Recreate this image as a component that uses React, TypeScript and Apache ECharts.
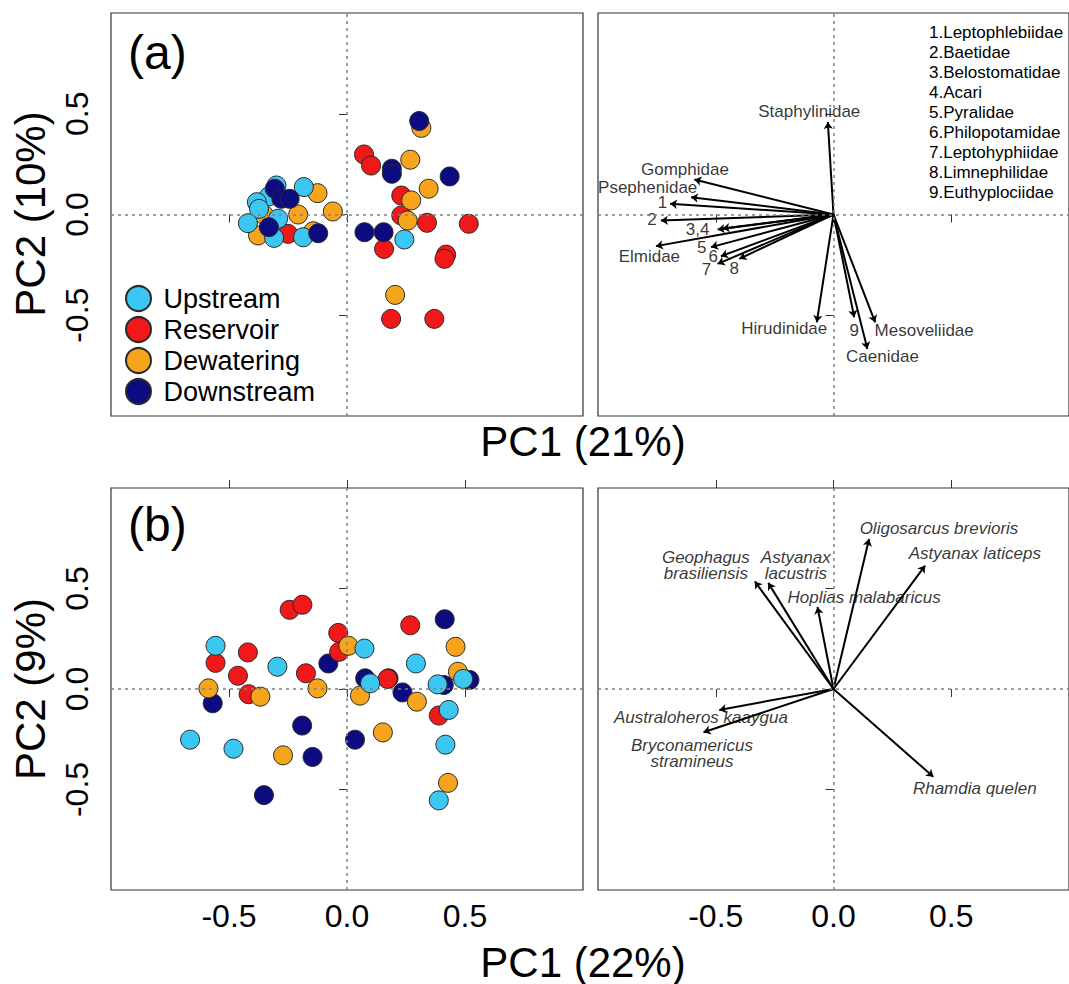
import React, { useEffect, useRef } from "react";
import * as echarts from "echarts";

const groups = ["Upstream", "Reservoir", "Dewatering", "Downstream"];
const groupColors = ["#3cc6f2", "#f01818", "#f7a41d", "#0c0c80"];

// Panel (a) site scores
const upstreamA = [[-0.299, 0.144], [-0.331, 0.09], [-0.382, 0.061], [-0.373, 0.028], [-0.42, -0.043], [-0.292, -0.021], [-0.309, -0.116], [-0.186, -0.113], [-0.183, 0.136], [0.243, -0.124]];
const reservoirA = [[0.072, 0.298], [0.102, 0.243], [0.23, 0.094], [0.23, -0.005], [0.339, -0.041], [0.516, -0.046], [0.157, -0.171], [0.42, -0.199], [0.413, -0.22], [0.187, -0.518], [0.37, -0.518], [-0.25, -0.096]];
const dewateringA = [[0.315, 0.43], [0.268, 0.272], [0.346, 0.128], [0.272, 0.07], [0.257, -0.03], [0.204, -0.399], [-0.125, 0.106], [-0.06, 0.015], [-0.207, 0.0], [-0.352, -0.002], [-0.377, -0.104], [-0.143, -0.083]];
const downstreamA = [[0.306, 0.464], [0.19, 0.227], [0.19, 0.202], [0.435, 0.189], [0.074, -0.088], [0.155, -0.088], [-0.122, -0.093], [-0.331, -0.063], [-0.306, 0.128], [-0.278, 0.078], [-0.243, 0.078]];

// Panel (b) site scores
const upstreamB = [[-0.557, 0.215], [-0.295, 0.111], [-0.665, -0.252], [-0.481, -0.297], [0.074, 0.201], [0.098, 0.028], [0.292, 0.127], [0.384, 0.023], [0.431, -0.104], [0.417, -0.277], [0.389, -0.554], [0.492, 0.05]];
const reservoirB = [[-0.243, 0.394], [-0.189, 0.419], [-0.037, 0.279], [-0.033, 0.185], [-0.42, 0.182], [-0.557, 0.13], [-0.462, 0.066], [-0.417, -0.026], [-0.174, 0.078], [0.172, 0.05], [0.268, 0.317], [0.389, -0.132]];
const dewateringB = [[-0.587, 0.003], [-0.367, -0.038], [-0.125, 0.003], [0.006, 0.215], [0.055, -0.033], [0.296, -0.063], [0.152, -0.216], [-0.271, -0.33], [0.46, 0.21], [0.47, 0.086], [0.428, -0.467]];
const downstreamB = [[-0.569, -0.071], [-0.079, 0.127], [-0.19, -0.182], [-0.146, -0.338], [-0.352, -0.528], [0.034, -0.252], [0.077, 0.053], [0.176, 0.053], [0.235, -0.017], [0.414, 0.347], [0.41, 0.02], [0.519, 0.045]];

// Panel (a) loadings (arrow tips) and label positions
const taxaA = ["Staphylinidae", "Gomphidae", "Psephenidae", "1", "2", "3", "4", "Elmidae", "5", "6", "7", "8", "Hirudinidae", "9", "Caenidae", "Mesoveliidae"];
const tipsA = [[-0.024, 0.459], [-0.591, 0.174], [-0.605, 0.086], [-0.694, 0.053], [-0.733, -0.03], [-0.492, -0.075], [-0.471, -0.07], [-0.754, -0.157], [-0.52, -0.162], [-0.478, -0.207], [-0.492, -0.245], [-0.4, -0.22], [-0.071, -0.535], [0.088, -0.51], [0.144, -0.667], [0.177, -0.535]];
const labelsA = ["Staphylinidae", "Gomphidae", "Psephenidae", "1", "2", "3,4", "Elmidae", "5", "6", "7", "8", "Hirudinidae", "9", "Caenidae", "Mesoveliidae"];
const labelPosA = [[-0.103, 0.512], [-0.631, 0.222], [-0.789, 0.132], [-0.726, 0.058], [-0.771, -0.025], [-0.577, -0.075], [-0.782, -0.207], [-0.56, -0.162], [-0.511, -0.207], [-0.539, -0.275], [-0.421, -0.267], [-0.209, -0.565], [0.088, -0.576], [0.208, -0.705], [0.385, -0.576]];
const keyA = ["1.Leptophlebiidae", "2.Baetidae", "3.Belostomatidae", "4.Acari", "5.Pyralidae", "6.Philopotamidae", "7.Leptohyphiidae", "8.Limnephilidae", "9.Euthyplociidae"];

// Panel (b) loadings
const speciesB = ["Oligosarcus brevioris", "Astyanax laticeps", "Hoplias malabaricus", "Astyanax\nlacustris", "Geophagus\nbrasiliensis", "Australoheros kaaygua", "Bryconamericus\nstramineus", "Rhamdia quelen"];
const tipsB = [[0.151, 0.746], [0.389, 0.614], [-0.068, 0.408], [-0.277, 0.528], [-0.334, 0.535], [-0.485, -0.104], [-0.552, -0.215], [0.424, -0.437]];
const labelPosB = [[0.448, 0.8], [0.6, 0.672], [0.13, 0.457], [-0.16, 0.614], [-0.542, 0.614], [-0.563, -0.143], [-0.601, -0.32], [0.6, -0.495]];

const tickValues = [-0.5, 0, 0.5];
const FONT = "Liberation Sans, Arial, sans-serif";

function axis(gridIndex: number, position: string, withLabels: boolean, rotate = 0) {
  return {
    type: "value",
    gridIndex,
    position,
    min: -1,
    max: 1,
    interval: 0.5,
    splitLine: { show: false },
    axisLine: { show: false },
    axisTick: { show: true, length: 8, customValues: tickValues, lineStyle: { color: "#333", width: 1 } },
    axisLabel: {
      show: withLabels,
      customValues: tickValues,
      formatter: (v: number) => v.toFixed(1),
      fontSize: 32,
      color: "#000",
      fontFamily: FONT,
      margin: rotate ? 18 : 10,
      rotate,
    },
  };
}

function refLines(i: number) {
  return {
    type: "line",
    xAxisIndex: i,
    yAxisIndex: i,
    data: [[0, 0]],
    showSymbol: false,
    symbol: "none",
    silent: true,
    z: 1,
    lineStyle: { opacity: 0 },
    markLine: {
      silent: true,
      symbol: "none",
      label: { show: false },
      lineStyle: { type: [3, 4], color: "#808080", width: 1.5 },
      data: [{ xAxis: 0 }, { yAxis: 0 }],
    },
  };
}

function scatter(name: string, color: string, data: number[][], i: number) {
  return {
    type: "scatter",
    name,
    xAxisIndex: i,
    yAxisIndex: i,
    data,
    symbolSize: 19,
    z: 3,
    itemStyle: { color, borderColor: "#2a2a2a", borderWidth: 1, opacity: 1 },
  };
}

function arrows(tips: number[][], i: number) {
  return {
    type: "lines",
    coordinateSystem: "cartesian2d",
    xAxisIndex: i,
    yAxisIndex: i,
    symbol: ["none", "arrow"],
    symbolSize: 7,
    z: 3,
    lineStyle: { color: "#000", width: 2, opacity: 1 },
    data: tips.map((t) => ({ coords: [[0, 0], [t[0], t[1]]] })),
  };
}

function labels(names: string[], pos: number[][], i: number, italic: boolean) {
  return {
    type: "scatter",
    xAxisIndex: i,
    yAxisIndex: i,
    symbolSize: 1,
    z: 4,
    itemStyle: { color: "rgba(0,0,0,0)" },
    label: {
      show: true,
      position: "inside",
      formatter: (p: any) => p.name,
      color: "#000",
      textBorderWidth: 0,
      fontSize: 17,
      lineHeight: 16,
      fontStyle: italic ? "italic" : "normal",
      fontFamily: FONT,
      align: "center",
    },
    data: names.map((n, k) => ({ name: n, value: pos[k] })),
  };
}

export default function App() {
  const ref = useRef<HTMLDivElement>(null);
  useEffect(() => {
    if (!ref.current) return;
    const chart = echarts.init(ref.current, null, { renderer: "svg" });
    const gridBox = { show: true, borderColor: "#333", borderWidth: 1.2, backgroundColor: "transparent" };
    const option: any = {
      animation: false,
      backgroundColor: "#fff",
      grid: [
        { ...gridBox, left: 111, top: 13, width: 472, height: 403 },
        { ...gridBox, left: 598, top: 13, width: 472, height: 403 },
        { ...gridBox, left: 111, top: 488, width: 472, height: 402 },
        { ...gridBox, left: 598, top: 488, width: 472, height: 402 },
      ],
      xAxis: [
        axis(0, "bottom", false),
        axis(1, "bottom", false),
        axis(2, "bottom", true),
        axis(3, "bottom", true),
        axis(2, "top", false),
        axis(3, "top", false),
      ],
      yAxis: [
        axis(0, "left", true, 90),
        axis(1, "left", false),
        axis(2, "left", true, 90),
        axis(3, "left", false),
      ],
      legend: {
        data: groups,
        orient: "vertical",
        left: 120,
        top: 280,
        itemWidth: 40,
        itemHeight: 25,
        itemGap: 4,
        icon: "circle",
        selectedMode: false,
        textStyle: { fontSize: 27, color: "#000", fontFamily: FONT },
      },
      graphic: [
        { type: "text", left: 128, top: 28, style: { text: "(a)", fontSize: 48, fill: "#000", fontFamily: FONT } },
        { type: "text", left: 128, top: 500, style: { text: "(b)", fontSize: 48, fill: "#000", fontFamily: FONT } },
        { type: "text", x: 583, y: 441, style: { text: "PC1 (21%)", fontSize: 42, fill: "#000", fontFamily: FONT, textAlign: "center", textVerticalAlign: "middle" } },
        { type: "text", x: 583, y: 962, style: { text: "PC1 (22%)", fontSize: 42, fill: "#000", fontFamily: FONT, textAlign: "center", textVerticalAlign: "middle" } },
        { type: "text", x: 30, y: 214, rotation: Math.PI / 2, style: { text: "PC2 (10%)", fontSize: 42, fill: "#000", fontFamily: FONT, textAlign: "center", textVerticalAlign: "middle" } },
        { type: "text", x: 30, y: 689, rotation: Math.PI / 2, style: { text: "PC2 (9%)", fontSize: 42, fill: "#000", fontFamily: FONT, textAlign: "center", textVerticalAlign: "middle" } },
        {
          type: "text",
          left: 929,
          top: 22,
          style: { text: keyA.join("\n"), fontSize: 17, lineHeight: 20, fill: "#000", fontFamily: FONT },
        },
      ],
      series: [
        refLines(0),
        refLines(1),
        refLines(2),
        refLines(3),
        scatter("Reservoir", groupColors[1], reservoirA, 0),
        scatter("Dewatering", groupColors[2], dewateringA, 0),
        scatter("Upstream", groupColors[0], upstreamA, 0),
        scatter("Downstream", groupColors[3], downstreamA, 0),
        scatter("Downstream", groupColors[3], downstreamB, 2),
        scatter("Reservoir", groupColors[1], reservoirB, 2),
        scatter("Dewatering", groupColors[2], dewateringB, 2),
        scatter("Upstream", groupColors[0], upstreamB, 2),
        arrows(tipsA, 1),
        labels(labelsA, labelPosA, 1, false),
        arrows(tipsB, 3),
        labels(speciesB, labelPosB, 3, true),
      ],
    };
    chart.setOption(option);
    return () => chart.dispose();
  }, []);
  return <div ref={ref} style={{ position: "absolute", left: 0, top: 0, width: 1069, height: 984 }} />;
}
